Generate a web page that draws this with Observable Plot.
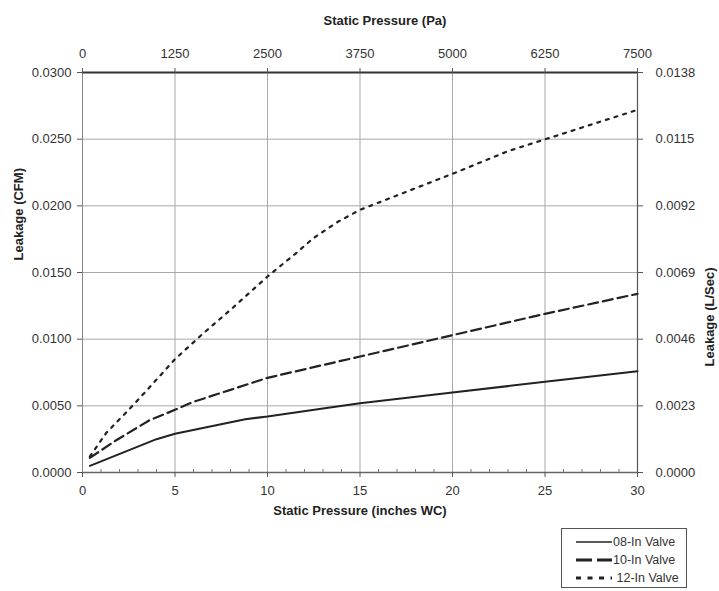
<!DOCTYPE html>
<html>
<head>
<meta charset="utf-8">
<script src="https://cdn.jsdelivr.net/npm/d3@7"></script>
<script src="https://cdn.jsdelivr.net/npm/@observablehq/plot@0.6"></script>
<style>
  html, body { margin: 0; padding: 0; background: #fff; }
  #wrap { position: relative; width: 719px; height: 591px; font-family: "Liberation Sans", Arial, sans-serif; }
  #legend { position: absolute; left: 561px; top: 528px; width: 124px; height: 58px; border: 1px solid #555; background: #fff; }
  #legend .row { position: absolute; left: 0; height: 18px; display: flex; align-items: center; font-size: 12.5px; color: #333; }
  #legend svg { margin-left: 14px; margin-right: 1px; }
</style>
</head>
<body>
<div id="wrap"></div>
<script>
// ---- data ----
const seriesNames = ["08-In Valve", "10-In Valve", "12-In Valve"];

const valve08X = [0.4, 4, 5, 8.8, 10, 13, 15, 20, 25, 30];
const valve08Y = [0.0005, 0.0025, 0.0029, 0.0040, 0.0042, 0.0048, 0.0052, 0.0060, 0.0068, 0.0076];

const valve10X = [0.4, 1.8, 3.6, 5, 6, 8, 10, 12.5, 15, 20, 25, 30];
const valve10Y = [0.0011, 0.0024, 0.0039, 0.0047, 0.0053, 0.0062, 0.0071, 0.0079, 0.0087, 0.0103, 0.0119, 0.0134];

const valve12X = [0.4, 1.3, 2.5, 3.5, 5, 6.5, 8, 10, 11.5, 12.5, 13.8, 15, 20, 23, 30];
const valve12Y = [0.0012, 0.0030, 0.0047, 0.0062, 0.0085, 0.0104, 0.0122, 0.0147, 0.0164, 0.0176, 0.0188, 0.0197, 0.0224, 0.0241, 0.0272];

const xTicks = [0, 5, 10, 15, 20, 25, 30];
const xMinorTicks = [1,2,3,4,6,7,8,9,11,12,13,14,16,17,18,19,21,22,23,24,26,27,28,29];
const paTickLabels = ["0", "1250", "2500", "3750", "5000", "6250", "7500"];
const yTicks = [0, 0.005, 0.010, 0.015, 0.020, 0.025, 0.030];
const lsecTickLabels = ["0.0000", "0.0023", "0.0046", "0.0069", "0.0092", "0.0115", "0.0138"];

const toRows = (xs, ys, name) => xs.map((x, i) => ({x, y: ys[i], name}));
const d08 = toRows(valve08X, valve08Y, seriesNames[0]);
const d10 = toRows(valve10X, valve10Y, seriesNames[1]);
const d12 = toRows(valve12X, valve12Y, seriesNames[2]);

const ink = "#222";
const gridC = "#a8a8a8";

const chart = Plot.plot({
  width: 719,
  height: 591,
  marginTop: 72,
  marginBottom: 119,
  marginLeft: 82,
  marginRight: 82,
  style: { fontFamily: "Liberation Sans, Arial, sans-serif", fontSize: "13px", color: "#333", background: "#fff", overflow: "visible" },
  x: { domain: [0, 30] },
  y: { domain: [0, 0.03] },
  marks: [
    Plot.gridX([5, 10, 15, 20, 25], { stroke: gridC, strokeOpacity: 1, strokeWidth: 1 }),
    Plot.gridY([0.005, 0.01, 0.015, 0.02, 0.025], { stroke: gridC, strokeOpacity: 1, strokeWidth: 1 }),
    Plot.ruleX([0], { stroke: "#888", strokeWidth: 1 }),
    Plot.ruleX([30], { stroke: "#555", strokeWidth: 1.2 }),
    Plot.ruleY([0.03], { stroke: "#333", strokeWidth: 2 }),
    Plot.ruleY([0], { stroke: "#666", strokeWidth: 1.5 }),
    // axes
    Plot.axisY(yTicks, { anchor: "left", tickFormat: d3.format(".4f"), tickSize: 5, tickPadding: 6, label: null, stroke: "#555" }),
    Plot.axisY(yTicks, { anchor: "right", tickFormat: (d, i) => lsecTickLabels[i], tickSize: 5, tickPadding: 13, label: null, stroke: "#555" }),
    Plot.axisX(xTicks, { anchor: "bottom", tickSize: 5, tickPadding: 8, label: null, stroke: "#555" }),
    Plot.axisX(xMinorTicks, { anchor: "bottom", tickSize: 3, dy: -3, tickFormat: () => "", label: null, stroke: "#777" }),
    Plot.axisX(xTicks, { anchor: "top", tickFormat: (d, i) => paTickLabels[i], tickSize: 5, tickPadding: 10, label: null, stroke: "#555" }),
    // titles
    Plot.text(["Static Pressure (Pa)"], { frameAnchor: "top", dx: 25, dy: -57, fontWeight: "bold", fontSize: 13, fill: "#222" }),
    Plot.text(["Static Pressure (inches WC)"], { frameAnchor: "bottom", dy: 42, fontWeight: "bold", fontSize: 13, fill: "#222" }),
    Plot.text(["Leakage (CFM)"], { frameAnchor: "left", dx: -64, dy: -12, rotate: -90, fontWeight: "bold", fontSize: 13, fill: "#222" }),
    Plot.text(["Leakage (L/Sec)"], { frameAnchor: "right", dx: 72, dy: -5, rotate: -90, fontWeight: "bold", fontSize: 13, fill: "#222" }),
    // series
    Plot.line(d08, { x: "x", y: "y", stroke: ink, strokeWidth: 2 }),
    Plot.line(d10, { x: "x", y: "y", stroke: ink, strokeWidth: 2.2, strokeDasharray: "10,5" }),
    Plot.line(d12, { x: "x", y: "y", stroke: ink, strokeWidth: 2.2, strokeDasharray: "3,6" })
  ]
});

const wrap = document.getElementById("wrap");
wrap.appendChild(chart);

// legend
const legend = document.createElement("div");
legend.id = "legend";
const dashes = [null, "16,5", "5,6.5"];
const widths = [1.6, 3, 3];
seriesNames.forEach((name, i) => {
  const row = document.createElement("div");
  row.className = "row";
  row.style.top = (4 + i * 18) + "px";
  row.innerHTML = `<svg width="36" height="10"><line x1="0" x2="36" y1="5" y2="5" stroke="${ink}" stroke-width="${widths[i]}" ${dashes[i] ? `stroke-dasharray="${dashes[i]}"` : ""}/></svg><span>${i === 2 ? "&nbsp;" : ""}${name}</span>`;
  legend.appendChild(row);
});
wrap.appendChild(legend);
</script>
</body>
</html>
